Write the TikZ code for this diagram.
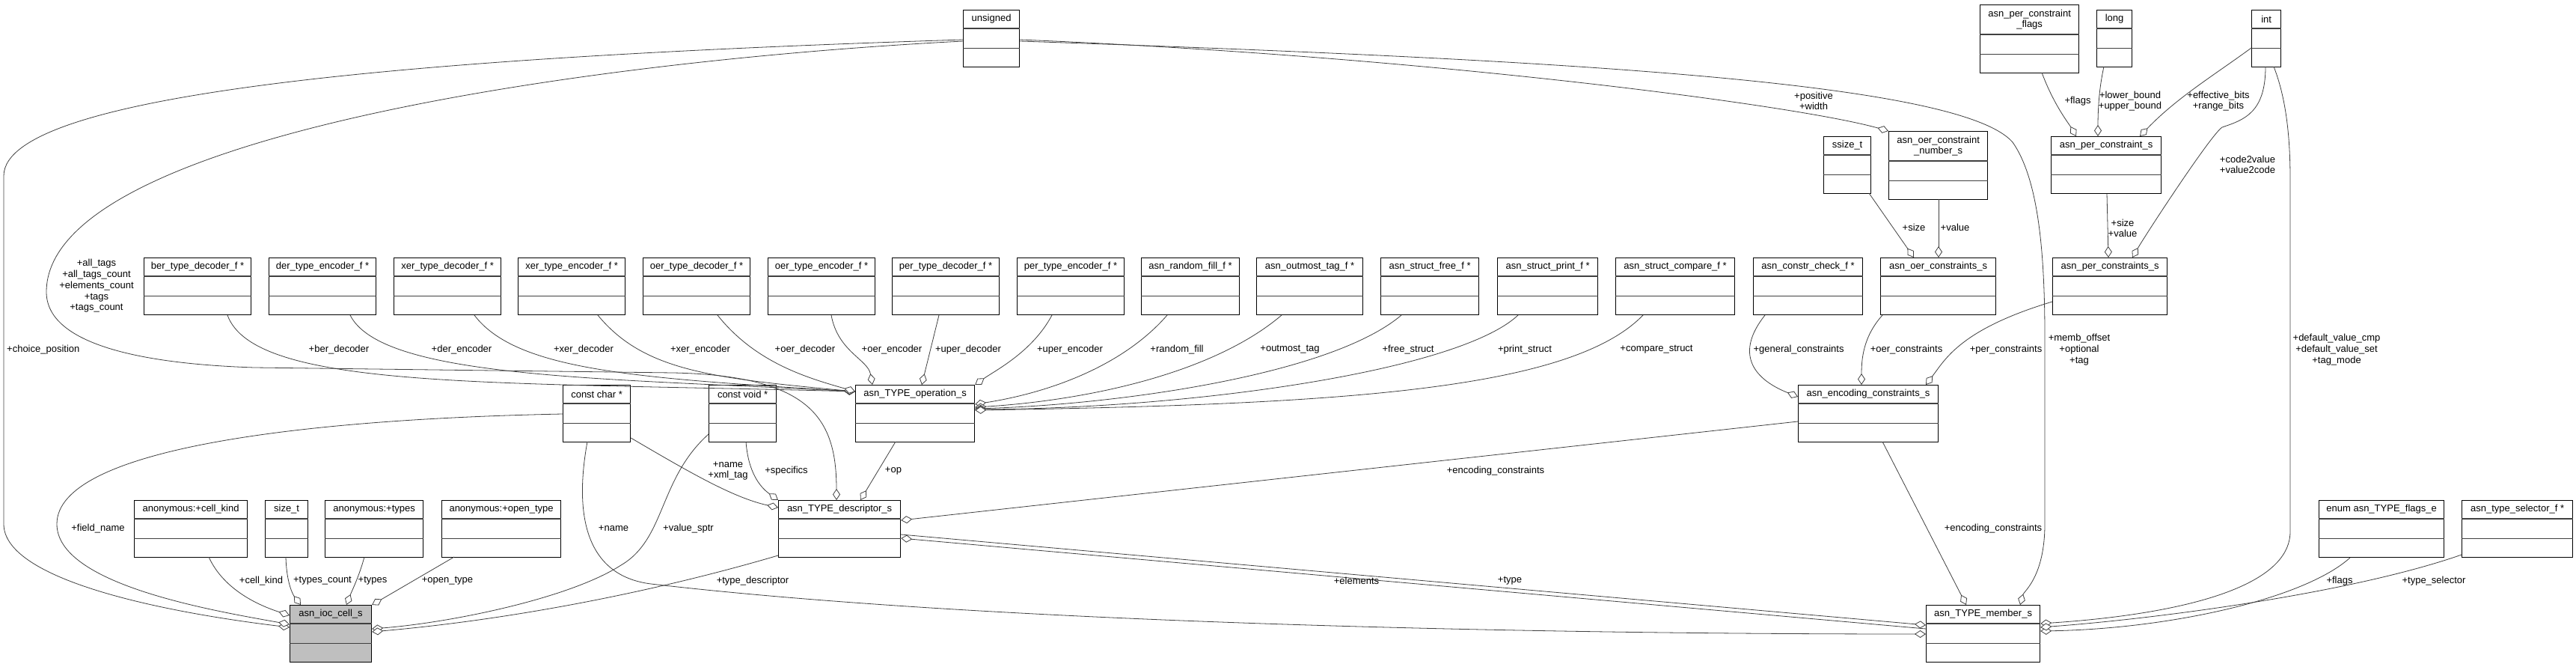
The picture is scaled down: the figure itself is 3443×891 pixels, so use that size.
\documentclass[tikz,border=0pt]{standalone}
\usepackage{fontspec}
\setmainfont{Liberation Sans}
\usetikzlibrary{calc,arrows.meta}

\definecolor{edgegray}{HTML}{404040}
\definecolor{iocgray}{HTML}{BFBFBF}

% class box: [title height]{name}{north west corner}{width}{title}
\newcommand{\umlclass}[5][25]{%
  \node[class box, minimum width=#4pt, minimum height=#1pt+51pt] (#2) at (#3) {};
  \node[class title, minimum height=#1pt] (#2-title) at (#2.north) {#5};
  \draw[class rule] (#2-title.south -| #2.west) -- (#2-title.south -| #2.east);
  \draw[class rule] ([yshift=25.5pt]#2.south west) -- ([yshift=25.5pt]#2.south east);
}

\begin{document}
\begin{tikzpicture}[x=1pt,y=-1pt,font=\fontsize{13}{14.7}\selectfont]
\tikzset{
  class box/.style={draw=black, line width=1.2pt, anchor=north west, inner sep=0pt, fill=white},
  class title/.style={anchor=north, inner sep=0pt, outer sep=0pt, align=center},
  class rule/.style={draw=black!75, line width=1.2pt},
  field edge/.style={draw=edgegray, line width=0.8pt,
    -{Diamond[fill=white,length=15pt,width=10pt]}},
  field label/.style={inner sep=0pt, align=center}
}
\useasboundingbox (0,0) rectangle (3443,891);

% top row
\umlclass{unsigned}{1287,13}{75}{unsigned}
\umlclass[40]{flags}{2646,6}{132}{asn\_per\_constraint\\\_flags}
\umlclass{long}{2802,13}{47}{long}
\umlclass{int}{3009,13}{39}{int}
\umlclass{ssize}{2437,182}{63}{ssize\_t}
\umlclass[40]{number}{2524,175}{132}{asn\_oer\_constraint\\\_number\_s}
\umlclass{pcs}{2741,182}{147}{asn\_per\_constraint\_s}

% function pointer row
\umlclass{ber}{192,344}{143}{ber\_type\_decoder\_f *}
\umlclass{der}{359,344}{143}{der\_type\_encoder\_f *}
\umlclass{xerdec}{526,344}{143}{xer\_type\_decoder\_f *}
\umlclass{xerenc}{692,344}{143}{xer\_type\_encoder\_f *}
\umlclass{oerdec}{859,344}{143}{oer\_type\_decoder\_f *}
\umlclass{oerenc}{1026,344}{143}{oer\_type\_encoder\_f *}
\umlclass{perdec}{1192,344}{143}{per\_type\_decoder\_f *}
\umlclass{perenc}{1359,344}{143}{per\_type\_encoder\_f *}
\umlclass{rfill}{1525,344}{131}{asn\_random\_fill\_f *}
\umlclass{otag}{1679,344}{142}{asn\_outmost\_tag\_f *}
\umlclass{sfree}{1845,344}{131}{asn\_struct\_free\_f *}
\umlclass{sprint}{2001,344}{134}{asn\_struct\_print\_f *}
\umlclass{scmp}{2159,344}{159}{asn\_struct\_compare\_f *}
\umlclass{ccheck}{2343,344}{146}{asn\_constr\_check\_f *}
\umlclass{oercs}{2513,344}{154}{asn\_oer\_constraints\_s}
\umlclass{percs}{2743,344}{153}{asn\_per\_constraints\_s}

\umlclass{cchar}{752,514}{90}{const char *}
\umlclass{cvoid}{947,514}{90}{const void *}
\umlclass{op}{1143,514}{159}{asn\_TYPE\_operation\_s}
\umlclass{enc}{2403,514}{187}{asn\_encoding\_constraints\_s}

\umlclass{ckind}{179,668}{151}{anonymous:+cell\_kind}
\umlclass{sizet}{354,668}{57}{size\_t}
\umlclass{types}{434,668}{131}{anonymous:+types}
\umlclass{otype}{590,668}{159}{anonymous:+open\_type}
\umlclass{desc}{1040,668}{163}{asn\_TYPE\_descriptor\_s}
\umlclass{tflags}{3099,668}{167}{enum asn\_TYPE\_flags\_e}
\umlclass{tsel}{3290,668}{148}{asn\_type\_selector\_f *}

\begin{scope}[class box/.append style={fill=iocgray}]
\umlclass{ioc}{387,808}{109}{asn\_ioc\_cell\_s}
\end{scope}
\umlclass{member}{2574,808}{152}{asn\_TYPE\_member\_s}

% unsigned
\draw[field edge] ($(unsigned.north west)+(0,40)$) .. controls (600,75) and (5,120) .. (5,235)
  -- (5,700) .. controls (5,775) and (220,818) .. ($(ioc.north west)+(0,30)$);
\draw[field edge] ($(unsigned.north west)+(0,42)$) .. controls (800,80) and (62,180) .. (62,390)
  .. controls (62,475) and (250,488) .. (340,491) -- (900,498)
  .. controls (1085,502) and (1118,560) .. ($(desc.north west)+(78,0)$);
\draw[field edge] ($(unsigned.north east)+(0,40)$) .. controls (1900,75) and (2400,140) .. (number.north west);
\draw[field edge] ($(unsigned.north east)+(0,42)$) .. controls (2100,80) and (2620,110) .. (2690,190)
  .. controls (2725,240) and (2733,340) .. (2733,450) -- (2733,700)
  .. controls (2733,770) and (2705,790) .. ($(member.north west)+(126,0)$);

% operations
\draw[field edge] ($(ber.north west)+(112,77)$) .. controls (340,520) and (650,510) .. ($(op.north west)+(0,9)$);
\draw[field edge] ($(der.north west)+(109,77)$) .. controls (510,505) and (800,505) .. ($(op.north west)+(0,9)$);
\draw[field edge] ($(xerdec.north west)+(108,77)$) .. controls (690,495) and (850,505) .. ($(op.north west)+(0,9)$);
\draw[field edge] ($(xerenc.north west)+(107,77)$) .. controls (860,495) and (950,505) .. ($(op.north west)+(0,9)$);
\draw[field edge] ($(oerdec.north west)+(100,77)$) .. controls (1010,485) and (1080,505) .. ($(op.north west)+(0,9)$);
\draw[field edge] ($(oerenc.north west)+(85,77)$) .. controls (1120,470) and (1160,480) .. ($(op.north west)+(23,0)$);
\draw[field edge] ($(perdec.north west)+(63,77)$) -- ($(op.north west)+(89,0)$);
\draw[field edge] ($(perenc.north west)+(47,77)$) .. controls (1380,470) and (1330,495) .. (op.north east);
\draw[field edge] ($(rfill.north west)+(35,77)$) .. controls (1500,490) and (1400,525) .. ($(op.north east)+(0,26)$);
\draw[field edge] ($(otag.north west)+(34,77)$) .. controls (1620,500) and (1450,535) .. ($(op.north east)+(0,30)$);
\draw[field edge] ($(sfree.north west)+(28,77)$) .. controls (1780,500) and (1500,540) .. ($(op.north east)+(0,32)$);
\draw[field edge] ($(sprint.north west)+(28,77)$) .. controls (1950,495) and (1600,545) .. ($(op.north east)+(0,33)$);
\draw[field edge] ($(scmp.north west)+(37,77)$) .. controls (2100,520) and (1800,540) .. ($(op.north east)+(0,34)$);

% descriptor
\draw[field edge] ($(cchar.north east)+(0,71)$) .. controls (920,630) and (980,665) .. ($(desc.north west)+(0,10)$);
\draw[field edge] ($(cvoid.north west)+(50,76)$) .. controls (1000,630) and (1015,650) .. (desc.north west);
\draw[field edge] ($(op.north west)+(54,76)$) -- ($(desc.north west)+(110,0)$);
\draw[field edge] ($(enc.north west)+(0,49)$) -- ($(desc.north east)+(0,27)$);
\draw[field edge] ($(member.north west)+(0,32)$) -- ($(desc.north east)+(0,51)$);

% constraints
\draw[field edge] ($(ccheck.north west)+(16,77)$) .. controls (2320,470) and (2340,505) .. ($(enc.north west)+(0,16)$);
\draw[field edge] ($(oercs.north west)+(3,77)$) .. controls (2490,450) and (2488,480) .. ($(enc.north west)+(85,0)$);
\draw[field edge] ($(percs.north west)+(0,59)$) .. controls (2620,440) and (2600,480) .. ($(enc.north west)+(171,0)$);
\draw[field edge] ($(ssize.north west)+(61,76)$) -- ($(oercs.north west)+(45,0)$);
\draw[field edge] ($(number.north west)+(67,91)$) -- ($(oercs.north west)+(78,0)$);
\draw[field edge] ($(flags.north west)+(83,91)$) .. controls (2745,140) and (2765,165) .. ($(pcs.north west)+(34,0)$);
\draw[field edge] ($(long.north west)+(10,76)$) .. controls (2805,120) and (2804,150) .. ($(pcs.north west)+(63,0)$);
\draw[field edge] ($(int.north west)+(0,51)$) .. controls (2960,100) and (2910,130) .. ($(pcs.north west)+(119,0)$);
\draw[field edge] ($(pcs.north west)+(75,77)$) -- ($(percs.north west)+(75,0)$);
\draw[field edge] ($(int.north west)+(19,76)$) .. controls (3028,150) and (3000,160) .. (2970,170)
  .. controls (2955,180) and (2870,310) .. ($(percs.north west)+(107,0)$);

% member
\draw[field edge] ($(int.north west)+(30,76)$) .. controls (3055,130) and (3061,180) .. (3061,240)
  -- (3061,710) .. controls (3061,800) and (2850,825) .. ($(member.north east)+(0,25)$);
\draw[field edge] ($(tflags.north west)+(42,77)$) .. controls (3080,800) and (2900,840) .. ($(member.north east)+(0,35)$);
\draw[field edge] ($(tsel.north west)+(0,73)$) .. controls (3150,790) and (2900,825) .. ($(member.north east)+(0,30)$);
\draw[field edge] ($(enc.north west)+(113,76)$) -- ($(member.north west)+(54,0)$);
\draw[field edge] ($(desc.north east)+(0,46)$) -- ($(member.north west)+(0,27)$);
\draw[field edge] ($(cchar.north west)+(33,76)$) .. controls (765,700) and (790,770) .. (870,780)
  .. controls (1300,830) and (2000,847) .. ($(member.north west)+(0,39)$);

% ioc cell
\draw[field edge] ($(cchar.north west)+(0,39)$) .. controls (400,560) and (76,600) .. (76,700)
  .. controls (76,780) and (280,815) .. ($(ioc.north west)+(0,26)$);
\draw[field edge] ($(cvoid.north west)+(0,66)$) .. controls (880,640) and (890,720) .. (830,755)
  .. controls (760,800) and (600,832) .. ($(ioc.north east)+(0,32)$);
\draw[field edge] ($(desc.north west)+(0,74)$) .. controls (870,792) and (680,828) .. ($(ioc.north east)+(0,36)$);
\draw[field edge] ($(ckind.north west)+(100,76)$) .. controls (300,790) and (350,810) .. ($(ioc.north west)+(0,14)$);
\draw[field edge] ($(sizet.north west)+(28,76)$) .. controls (383,780) and (392,795) .. ($(ioc.north west)+(15,0)$);
\draw[field edge] ($(types.north west)+(53,76)$) .. controls (480,770) and (470,790) .. ($(ioc.north west)+(76,0)$);
\draw[field edge] ($(otype.north west)+(17,76)$) -- (ioc.north east);

% labels
\node[field label, anchor=west] (lchoice) at (9,467) {+choice\_position};
\node[field label] (ltags) at (129,382) {+all\_tags\\+all\_tags\_count\\+elements\_count\\+tags\\+tags\_count};
\node[field label] (lberdec) at (453,467) {+ber\_decoder};
\node[field label] (lderenc) at (617,467) {+der\_encoder};
\node[field label] (lxerdec) at (780,467) {+xer\_decoder};
\node[field label] (lxerenc) at (936,467) {+xer\_encoder};
\node[field label] (loerdec) at (1076,467) {+oer\_decoder};
\node[field label] (loerenc) at (1192,467) {+oer\_encoder};
\node[field label] (luperdec) at (1294,467) {+uper\_decoder};
\node[field label] (luperenc) at (1430,467) {+uper\_encoder};
\node[field label] (lrfill) at (1573,467) {+random\_fill};
\node[field label] (lotag) at (1724,467) {+outmost\_tag};
\node[field label] (lfree) at (1882,467) {+free\_struct};
\node[field label] (lprint) at (2038,467) {+print\_struct};
\node[field label] (lcmp) at (2214,467) {+compare\_struct};
\node[field label] (lgeneral) at (2404,467) {+general\_constraints};
\node[field label] (loercs) at (2548,467) {+oer\_constraints};
\node[field label] (lpercs) at (2681,467) {+per\_constraints};
\node[field label] (lmemb) at (2779,467) {+memb\_offset\\+optional\\+tag};
\node[field label] (ldefault) at (3123,467) {+default\_value\_cmp\\+default\_value\_set\\+tag\_mode};
\node[field label] (lpositive) at (2424,135) {+positive\\+width};
\node[field label] (lflags) at (2777,135) {+flags};
\node[field label] (lbound) at (2847,135) {+lower\_bound\\+upper\_bound};
\node[field label] (lbits) at (2965,135) {+effective\_bits\\+range\_bits};
\node[field label] (lcode) at (3004,220) {+code2value\\+value2code};
\node[field label] (lsize) at (2558,304) {+size};
\node[field label] (lvalue) at (2613,304) {+value};
\node[field label] (lsizevalue) at (2837,305) {+size\\+value};
\node[field label] (lname) at (973,629) {+name\\+xml\_tag};
\node[field label] (lspecifics) at (1051,629) {+specifics};
\node[field label] (lop) at (1194,629) {+op};
\node[field label] (lencdesc) at (1999,629) {+encoding\_constraints};
\node[field label] (lfield) at (131,706) {+field\_name};
\node[field label] (lmname) at (820,706) {+name};
\node[field label] (lsptr) at (920,706) {+value\_sptr};
\node[field label] (lencmember) at (2664,706) {+encoding\_constraints};
\node[field label] (lkind) at (349,776) {+cell\_kind};
\node[field label] (lcount) at (431,776) {+types\_count};
\node[field label] (ltypes) at (498,776) {+types};
\node[field label] (lopen) at (598,776) {+open\_type};
\node[field label] (ltdesc) at (1006,776) {+type\_descriptor};
\node[field label] (lelements) at (1813,776) {+elements};
\node[field label] (ltype) at (2018,776) {+type};
\node[field label] (ltflags) at (3127,776) {+flags};
\node[field label] (lselector) at (3253,776) {+type\_selector};

\end{tikzpicture}
\end{document}
